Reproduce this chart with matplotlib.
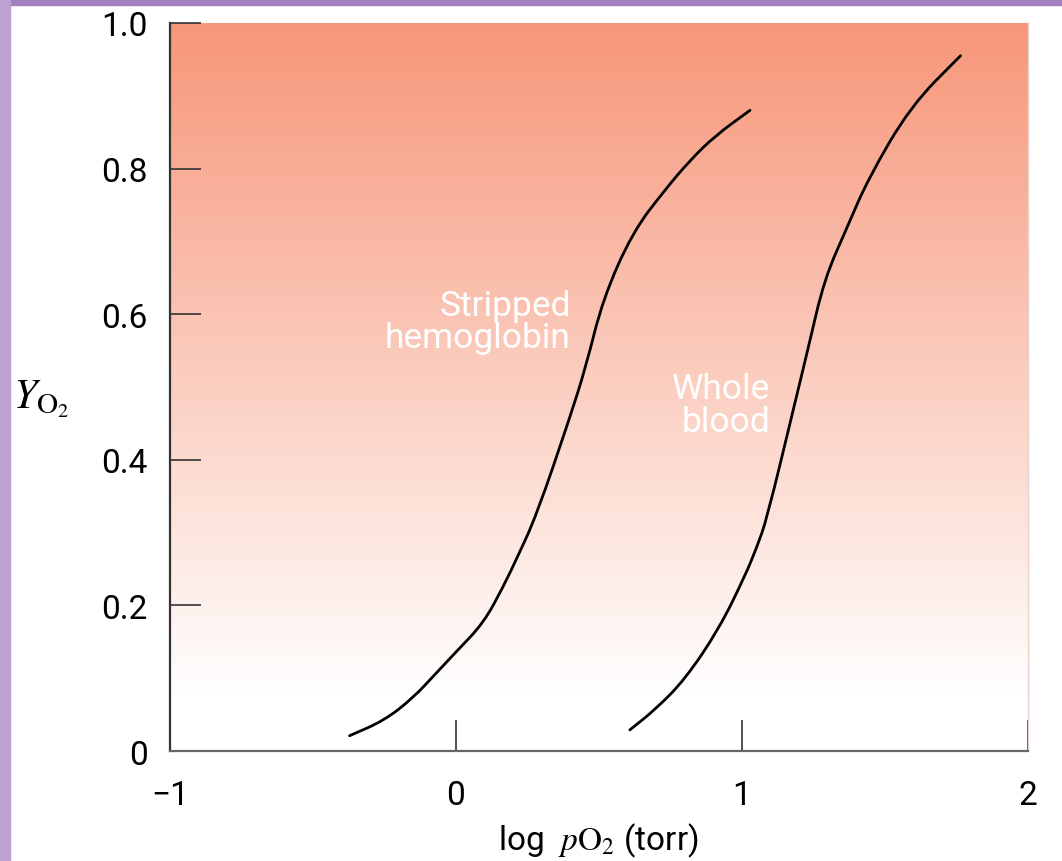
import matplotlib
matplotlib.use("Agg")
import matplotlib.pyplot as plt
import numpy as np
from matplotlib.patches import Rectangle, PathPatch
from matplotlib.path import Path

# ── data ─────────────────────────────────────────────────────────────
stripped_logp = [-0.372, -0.25, -0.15, -0.076, 0.0, 0.097, 0.167, 0.212, 0.281,
                 0.40, 0.455, 0.514, 0.618, 0.733, 0.82, 0.906, 1.028]
stripped_y = [0.021, 0.042, 0.073, 0.104, 0.136, 0.176, 0.227, 0.264, 0.323,
              0.46, 0.529, 0.621, 0.713, 0.772, 0.812, 0.845, 0.880]

blood_logp = [0.608, 0.70, 0.802, 0.92, 1.01, 1.052, 1.087, 1.174, 1.233,
              1.288, 1.365, 1.441, 1.59, 1.764]
blood_y = [0.029, 0.058, 0.099, 0.168, 0.24, 0.28, 0.319, 0.46, 0.556,
           0.648, 0.717, 0.786, 0.886, 0.955]

x_ticks = [-1, 0, 1, 2]
x_ticklabels = ["\u22121", "0", "1", "2"]
y_ticks = [0, 0.2, 0.4, 0.6, 0.8, 1.0]
y_ticklabels = ["0", "0.2", "0.4", "0.6", "0.8", "1.0"]

plt.rcParams["font.family"] = ["Roboto", "DejaVu Sans"]
plt.rcParams["mathtext.fontset"] = "stix"


def smooth_curve(xs, ys):
    """Quadratic-Bezier path using the read points as control points."""
    pts = np.column_stack([xs, ys])
    verts = [pts[0], (pts[0] + pts[1]) / 2]
    codes = [Path.MOVETO, Path.LINETO]
    for i in range(1, len(pts) - 1):
        verts += [pts[i], (pts[i] + pts[i + 1]) / 2]
        codes += [Path.CURVE3, Path.CURVE3]
    verts.append(pts[-1])
    codes.append(Path.LINETO)
    return Path(verts, codes)


fig = plt.figure(figsize=(10.62, 8.62), dpi=100)
ax = fig.add_axes([0.160, 0.1276, 0.808, 0.8446])

# purple frame bits at top and left edge
fig.patches.append(Rectangle((0, 0.993), 1, 0.007, transform=fig.transFigure,
                             color="#a27fbf", zorder=0))
fig.patches.append(Rectangle((0, 0), 0.0095, 1, transform=fig.transFigure,
                             color="#bba2d3", zorder=0))

# salmon -> white vertical gradient
top = np.array([247, 150, 121]) / 255
y_edges = np.linspace(1.0, 0.0, 256)
ramp = np.clip((y_edges - 0.075) / (1.0 - 0.075), 0, 1).reshape(-1, 1)
img = 1 - ramp[..., None] * (1 - top)
img = np.repeat(img, 2, axis=1)
ax.imshow(img, extent=[-1, 2, 0, 1], aspect="auto", zorder=0, interpolation="bilinear")

for xs, ys in [(stripped_logp, stripped_y), (blood_logp, blood_y)]:
    ax.add_patch(PathPatch(smooth_curve(xs, ys), facecolor="none", edgecolor="black",
                           lw=2, capstyle="round", zorder=3))

ax.text(0.402, 0.59, "Stripped\nhemoglobin", color="white", ha="right", va="center",
        fontsize=25.5, linespacing=0.98)
ax.text(1.098, 0.475, "Whole\nblood", color="white", ha="right", va="center",
        fontsize=25.5, linespacing=0.98)

ax.set_xlim(-1, 2)
ax.set_ylim(0, 1)
ax.set_xticks(x_ticks)
ax.set_xticklabels(x_ticklabels)
ax.set_yticks(y_ticks)
ax.set_yticklabels(y_ticklabels)
ax.tick_params(direction="in", length=22, width=1.2, color="#333333",
               labelsize=24, pad=20)
ax.tick_params(axis="y", pad=16)

ax.spines["top"].set_visible(False)
ax.spines["right"].set_color("#e6d2ca")
ax.spines["right"].set_linewidth(1)
ax.spines["left"].set_color("#333333")
ax.spines["left"].set_linewidth(1.6)
ax.spines["bottom"].set_color("#666666")
ax.spines["bottom"].set_linewidth(1.6)

fig.text(0.563, 0.014, r"log  $p\mathrm{O}_2$ (torr)", fontsize=24,
         ha="center", va="baseline")
fig.text(0.012, 0.537, r"$Y_{\mathrm{O}_2}$", fontsize=30, ha="left", va="center")

fig.savefig("out.png", dpi=100)
